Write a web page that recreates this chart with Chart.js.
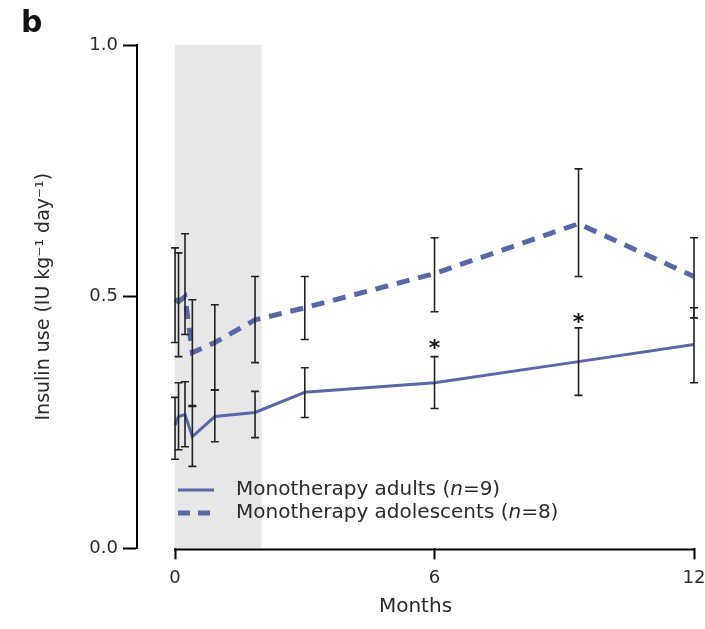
<!DOCTYPE html>
<html lang="en">
<head>
<meta charset="UTF-8">
<script src="https://cdn.jsdelivr.net/npm/chart.js@4.4.0/dist/chart.umd.min.js"></script>
<style>
  html, body { margin: 0; padding: 0; background: #fff; }
</style>
</head>
<body>
<canvas id="chart-area" width="705" height="629"></canvas>
<script>
// time points (months)
var months = [0, 0.08, 0.23, 0.4, 0.92, 1.85, 3, 6, 9.33, 12];

// monotherapy adults (n=9)
var adults   = [0.245, 0.262, 0.266, 0.222, 0.262, 0.270, 0.310, 0.329, 0.371, 0.405];
var adultsLo = [0.177, 0.196, 0.202, 0.163, 0.212, 0.220, 0.260, 0.278, 0.304, 0.329];
var adultsHi = [0.300, 0.329, 0.331, 0.282, 0.315, 0.312, 0.359, 0.381, 0.438, 0.478];

// monotherapy adolescents (n=8)
var teens   = [0.495, 0.490, 0.500, 0.389, 0.409, 0.454, 0.478, 0.546, 0.645, 0.540];
var teensLo = [0.409, 0.381, 0.425, 0.284, 0.315, 0.369, 0.415, 0.470, 0.540, 0.458];
var teensHi = [0.597, 0.587, 0.625, 0.494, 0.484, 0.540, 0.540, 0.617, 0.754, 0.617];

// significance marks
var starX = [6, 9.33];
var starY = [0.41, 0.462];

var xTicks = [0, 6, 12];
var shadeFrom = 0, shadeTo = 2;
var xAxisStart = -0.88;

var lineColor = '#5a66a5';
var textColor = '#2a2a2a';

function pts(xs, ys) {
  return xs.map(function (x, i) { return { x: x, y: ys[i] }; });
}

var bars = [
  { lo: adultsLo, hi: adultsHi },
  { lo: teensLo, hi: teensHi }
];

var extras = {
  id: 'extras',
  beforeDatasetsDraw: function (chart) {
    var ctx = chart.ctx, xs = chart.scales.x, a = chart.chartArea;
    var x0 = xs.getPixelForValue(shadeFrom), x1 = xs.getPixelForValue(shadeTo);
    ctx.save();
    ctx.fillStyle = '#e7e7e7';
    ctx.fillRect(x0, a.top, x1 - x0, a.bottom - a.top);
    ctx.restore();
  },
  afterDatasetsDraw: function (chart) {
    var ctx = chart.ctx, xs = chart.scales.x, ys = chart.scales.y, a = chart.chartArea;
    ctx.save();

    // error bars
    ctx.strokeStyle = '#222';
    ctx.lineWidth = 1.6;
    bars.forEach(function (b) {
      months.forEach(function (m, i) {
        var px = xs.getPixelForValue(m);
        var top = ys.getPixelForValue(b.hi[i]);
        var bot = ys.getPixelForValue(b.lo[i]);
        ctx.beginPath();
        ctx.moveTo(px, top); ctx.lineTo(px, bot);
        ctx.moveTo(px - 4, top); ctx.lineTo(px + 4, top);
        ctx.moveTo(px - 4, bot); ctx.lineTo(px + 4, bot);
        ctx.stroke();
      });
    });

    // x axis baseline, only over the data range
    ctx.strokeStyle = '#000';
    ctx.lineWidth = 2;
    ctx.beginPath();
    ctx.moveTo(xs.getPixelForValue(xTicks[0]) - 1, a.bottom + 1);
    ctx.lineTo(xs.getPixelForValue(xTicks[xTicks.length - 1]) + 1, a.bottom + 1);
    ctx.stroke();

    // stars
    ctx.fillStyle = '#111';
    ctx.font = 'bold 22px "DejaVu Sans"';
    ctx.textAlign = 'center';
    ctx.textBaseline = 'middle';
    starX.forEach(function (sx, i) {
      ctx.fillText('*', xs.getPixelForValue(sx), ys.getPixelForValue(starY[i]) + 7);
    });

    // legend
    var lx = a.left + 41, tx = a.left + 99;
    var rows = [
      { y: 490, dash: [], w: 3, pre: 'Monotherapy adults (', post: '=9)' },
      { y: 513, dash: [12, 8], w: 5, pre: 'Monotherapy adolescents (', post: '=8)' }
    ];
    rows.forEach(function (r) {
      ctx.strokeStyle = lineColor;
      ctx.lineWidth = r.w;
      ctx.setLineDash(r.dash);
      ctx.beginPath();
      ctx.moveTo(lx, r.y); ctx.lineTo(lx + 36, r.y);
      ctx.stroke();
      ctx.setLineDash([]);
      ctx.fillStyle = textColor;
      ctx.textAlign = 'left';
      ctx.textBaseline = 'middle';
      var x = tx;
      ctx.font = '20px "DejaVu Sans"';
      ctx.fillText(r.pre, x, r.y);
      x += ctx.measureText(r.pre).width;
      ctx.font = 'italic 20px "DejaVu Sans"';
      ctx.fillText('n', x, r.y);
      x += ctx.measureText('n').width;
      ctx.font = '20px "DejaVu Sans"';
      ctx.fillText(r.post, x, r.y);
    });
    ctx.restore();
  }
};

var config = {
  type: 'line',
  data: {
    datasets: [{
      label: 'Monotherapy adults (n=9)',
      data: pts(months, adults),
      borderColor: lineColor,
      borderWidth: 3,
      pointRadius: 0,
      tension: 0
    }, {
      label: 'Monotherapy adolescents (n=8)',
      data: pts(months, teens),
      borderColor: lineColor,
      borderWidth: 5,
      borderDash: [13, 9],
      pointRadius: 0,
      tension: 0
    }]
  },
  options: {
    responsive: false,
    animation: false,
    layout: { padding: { left: 21, right: 11, top: 0, bottom: 0 } },
    plugins: {
      legend: { display: false },
      tooltip: { enabled: false },
      title: {
        display: true,
        text: 'b',
        align: 'start',
        color: '#111',
        font: { family: 'DejaVu Sans', size: 30, weight: 'bold' },
        padding: { top: 6, bottom: 3 }
      }
    },
    scales: {
      x: {
        type: 'linear',
        min: xAxisStart,
        max: 12,
        afterBuildTicks: function (scale) {
          scale.ticks = xTicks.map(function (v) { return { value: v }; });
        },
        afterFit: function (scale) {
          scale.paddingRight = 0;
          scale.paddingLeft = 0;
        },
        border: { display: false },
        grid: { drawOnChartArea: false, drawTicks: true, tickLength: 11, tickWidth: 2, tickColor: '#000' },
        ticks: {
          color: textColor,
          padding: 8,
          maxRotation: 0,
          font: { family: 'DejaVu Sans', size: 18 },
          callback: function (v) { return String(v); }
        },
        title: {
          display: true,
          text: 'Months',
          color: textColor,
          font: { family: 'DejaVu Sans', size: 20, lineHeight: 1 },
          padding: { top: 0, bottom: 12 }
        }
      },
      y: {
        min: 0,
        max: 1,
        afterFit: function (scale) { scale.width = 116; },
        border: { display: true, color: '#000', width: 2 },
        grid: { drawOnChartArea: false, drawTicks: true, tickLength: 14, tickWidth: 2, tickColor: '#000' },
        ticks: {
          stepSize: 0.5,
          color: textColor,
          padding: 5,
          font: { family: 'DejaVu Sans', size: 18 },
          callback: function (v) { return v.toFixed(1); }
        },
        title: {
          display: true,
          text: 'Insulin use (IU kg\u207B\u00B9 day\u207B\u00B9)',
          color: textColor,
          font: { family: 'DejaVu Sans', size: 19 },
          padding: { top: 12, bottom: 0 }
        }
      }
    }
  },
  plugins: [extras]
};

var ctx = document.getElementById('chart-area').getContext('2d');
window.myChart = new Chart(ctx, config);
</script>
</body>
</html>
